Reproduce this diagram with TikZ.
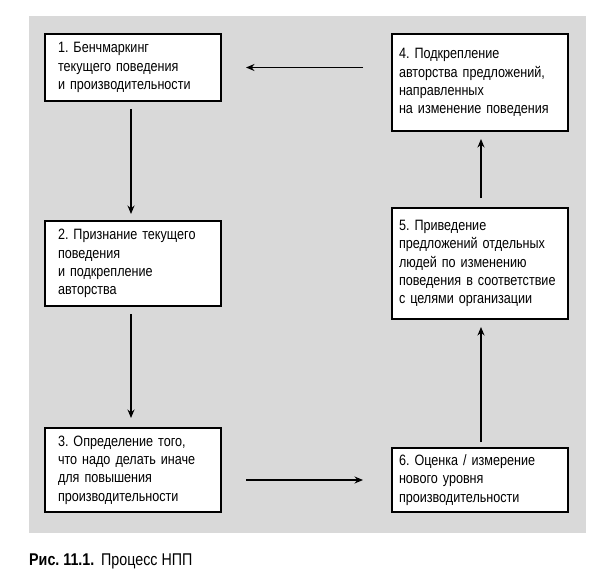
\documentclass[tikz,border=0pt]{standalone}
\usepackage{fontspec}
\setmainfont{Liberation Sans}[FakeStretch=0.84]
\usetikzlibrary{arrows.meta}
\definecolor{bggray}{RGB}{217,217,217}
\frenchspacing
\tikzset{
  stepbox/.style={draw=black, line width=1.2pt, fill=white, outer sep=0pt,
    inner ysep=2pt, minimum width=176pt, align=left,
    font=\fontsize{15pt}{18.3pt}\selectfont},
  leftbox/.style={stepbox, inner xsep=13pt, text width=150pt},
  rightbox/.style={stepbox, inner xsep=7pt, text width=162pt},
  arr/.style={line width=1.2pt, -{Stealth[length=8.5pt,width=7pt]}}
}
\begin{document}
\begin{tikzpicture}[x=1pt,y=-1pt]
\useasboundingbox (0,0) rectangle (607,575);
\fill[bggray] (29,16) rectangle (586,533);
\node[leftbox, minimum height=67pt] (b1) at (133,67.5) {1. Бенчмаркинг\\текущего поведения\\и производительности};
\node[leftbox, minimum height=85pt] (b2) at (133,263.5) {2. Признание текущего\\поведения\\и подкрепление\\авторства};
\node[leftbox, minimum height=84pt] (b3) at (133,470) {3. Определение того,\\что надо делать иначе\\для повышения\\производительности};
\node[rightbox, minimum height=97pt] (b4) at (480,82.5) {4. Подкрепление\\авторства предложений,\\направленных\\на изменение поведения};
\node[rightbox, minimum height=111pt] (b5) at (480,263.5) {5. Приведение\\предложений отдельных\\людей по изменению\\поведения в соответствие\\с целями организации};
\node[rightbox, minimum height=64pt] (b6) at (480,480) {6. Оценка / измерение\\нового уровня\\производительности};
\draw[arr, shorten <=29pt, shorten >=25pt] (b4.west |- b1.east) -- (b1.east);
\draw[arr, shorten <=8pt, shorten >=7pt] ([xshift=-2pt]b1.south) -- ([xshift=-2pt]b2.north);
\draw[arr, shorten <=8pt, shorten >=10pt] ([xshift=-2pt]b2.south) -- ([xshift=-2pt]b3.north);
\draw[arr, shorten <=25pt, shorten >=29pt] (b3.east |- b6.west) -- (b6.west);
\draw[arr, shorten <=6pt, shorten >=8pt] ([xshift=1pt]b6.north) -- ([xshift=1pt]b5.south);
\draw[arr, shorten <=10pt, shorten >=8pt] ([xshift=1pt]b5.north) -- ([xshift=1pt]b4.south);
\node[anchor=base west, inner sep=0pt, font=\fontsize{17pt}{18pt}\selectfont] (cap) at (29,565) {\textbf{Рис. 11.1.}\, Процесс НПП};
\end{tikzpicture}
\end{document}
